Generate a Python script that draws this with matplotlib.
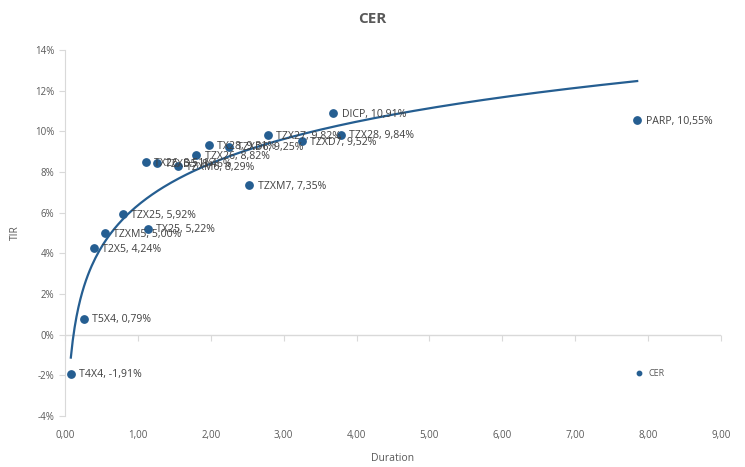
import numpy as np
import matplotlib
matplotlib.use("Agg")
import matplotlib.pyplot as plt
from matplotlib.ticker import FuncFormatter, NullFormatter

# Bond data: ticker, duration, TIR (%)
tickers = ["T4X4", "T5X4", "T2X5", "TZXM5", "TZX25", "TX25", "TX26", "TZXD5",
           "TZXM6", "TZX26", "TX28", "TZXD6", "TZXM7", "TZX27", "TZXD7",
           "DICP", "TZX28", "PARP"]
duration = [0.08, 0.26, 0.40, 0.55, 0.79, 1.14, 1.11, 1.26,
            1.55, 1.80, 1.97, 2.25, 2.53, 2.78, 3.25,
            3.68, 3.78, 7.85]
tir = [-1.91, 0.79, 4.24, 5.00, 5.92, 5.22, 8.51, 8.46,
       8.29, 8.82, 9.31, 9.25, 7.35, 9.82, 9.52,
       10.91, 9.84, 10.55]

blue = "#255E91"
grey_txt = "#595959"

plt.rcParams["font.family"] = ["Open Sans", "DejaVu Sans"]

fig = plt.figure(figsize=(7.45, 4.67), dpi=100)
ax = fig.add_axes([65 / 745, 1 - 416 / 467, 656 / 745, 366 / 467])

x = np.array(duration)
y = np.array(tir)

# points
ax.scatter(x, y, s=28, color=blue, zorder=3, label="CER")

# logarithmic trendline (Excel style)
b, a = np.polyfit(np.log(x), y, 1)
xs = np.linspace(x.min(), x.max(), 300)
ax.plot(xs, a + b * np.log(xs), color=blue, lw=1.6, zorder=2)

# data labels
for t, xi, yi in zip(tickers, duration, tir):
    lab = f"{t}, {yi:.2f}%".replace(".", ",")
    ax.annotate(lab, (xi, yi), xytext=(6, -1), textcoords="offset points",
                va="center", ha="left", fontsize=7.6, color="#404040", zorder=4)

ax.set_xlim(0, 9)
ax.set_ylim(-4, 14)
ax.set_xticks(range(0, 10))
ax.set_yticks(range(-4, 15, 2))
ax.xaxis.set_major_formatter(FuncFormatter(lambda v, p: f"{v:.2f}".replace(".", ",")))
ax.yaxis.set_major_formatter(FuncFormatter(lambda v, p: f"{v:.0f}%"))

for s in ["top", "right", "bottom"]:
    ax.spines[s].set_visible(False)
ax.spines["left"].set_color("#d9d9d9")
ax.tick_params(axis="y", colors="#d9d9d9", labelcolor=grey_txt, labelsize=7, length=4)
ax.tick_params(axis="x", length=0, labelcolor=grey_txt, labelsize=7, pad=10)

# horizontal axis line crossing at 0%
ax.axhline(0, color="#d9d9d9", lw=1, zorder=1)
zero_pos = (0 - ax.get_ylim()[0]) / (ax.get_ylim()[1] - ax.get_ylim()[0])
sec = ax.secondary_xaxis(zero_pos)
sec.set_xticks(range(0, 10))
sec.xaxis.set_ticks_position("bottom")
sec.xaxis.set_major_formatter(NullFormatter())
sec.tick_params(axis="x", length=4, colors="#d9d9d9", direction="out")
sec.spines["top"].set_visible(False)
sec.spines["bottom"].set_visible(False)

ax.set_xlabel("Duration", color=grey_txt, fontsize=7.5, labelpad=9)
ax.set_ylabel("TIR", color=grey_txt, fontsize=7.5, labelpad=10)
fig.suptitle("CER", x=0.5, y=0.975, fontsize=11, fontweight="bold", color=grey_txt)

leg = ax.legend(loc="center left", bbox_to_anchor=(0.855, 0.117), frameon=False,
                fontsize=6.5, markerscale=0.6, handletextpad=0.0, borderpad=0)
for txt in leg.get_texts():
    txt.set_color(grey_txt)

fig.savefig("out.png", dpi=100)
